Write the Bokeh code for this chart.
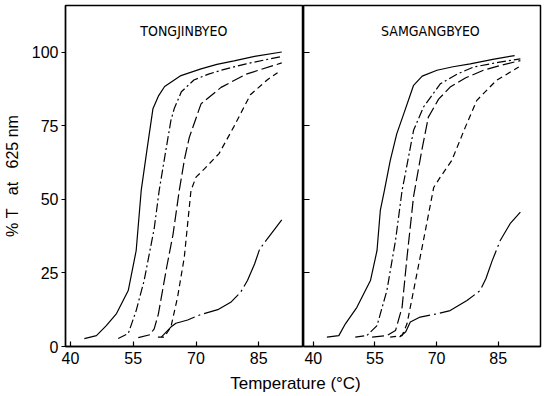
from bokeh.plotting import figure
from bokeh.layouts import row, column
from bokeh.models import Label, FixedTicker
from bokeh.embed import file_html
from bokeh.resources import INLINE

# ---------------- data ----------------
x_ticks = [40, 55, 70, 85]
y_ticks = [0, 25, 50, 75, 100]
panel_titles = ["TONGJINBYEO", "SAMGANGBYEO"]

# Left panel: TONGJINBYEO
L_T1 = [43.3, 46.2, 48.5, 51.0, 53.8, 55.7, 56.9, 58.3, 59.7, 61.0, 62.5, 66.4, 71.2, 75.0, 79.1, 84.0, 90.5]
L_Y1 = [2.7, 3.7, 7.0, 11.2, 19.0, 32.6, 53.0, 67.0, 80.7, 85.0, 88.3, 92.0, 94.3, 95.8, 97.0, 98.5, 100.0]
L_T2 = [51.4, 53.8, 55.7, 57.6, 60.0, 61.2, 62.6, 64.0, 64.8, 66.5, 69.5, 73.0, 76.0, 82.0, 90.5]
L_Y2 = [2.7, 4.4, 12.2, 22.4, 40.0, 53.0, 65.0, 76.8, 80.8, 86.5, 90.5, 92.5, 93.8, 96.0, 98.5]
L_T3 = [56.2, 59.0, 60.0, 61.0, 63.0, 64.5, 66.0, 67.3, 68.4, 71.2, 76.0, 82.0, 90.5]
L_Y3 = [3.0, 4.0, 6.0, 11.0, 27.0, 38.0, 53.0, 64.0, 71.0, 82.4, 88.0, 92.5, 96.3]
L_T4 = [60.9, 62.4, 64.0, 65.6, 67.2, 68.8, 70.0, 72.0, 75.5, 79.0, 83.0, 87.0, 89.5]
L_Y4 = [3.2, 3.2, 6.6, 16.8, 30.3, 53.0, 57.5, 60.3, 65.5, 74.5, 85.5, 90.5, 93.0]
L_T5 = [61.7, 64.0, 65.2, 68.0, 71.2, 75.2, 78.3, 80.7, 82.3, 84.0, 85.2, 87.0, 90.5]
L_Y5 = [3.2, 6.6, 7.9, 9.0, 10.9, 12.5, 15.0, 18.5, 22.4, 28.0, 33.0, 36.5, 43.0]

# Right panel: SAMGANGBYEO
R_T1 = [43.3, 46.2, 47.8, 50.6, 53.9, 55.5, 56.3, 57.3, 58.7, 60.3, 62.0, 64.4, 66.5, 70.1, 74.0, 78.2, 84.0, 89.0]
R_Y1 = [3.2, 3.7, 7.7, 13.3, 22.4, 32.6, 46.2, 53.0, 63.0, 72.2, 79.0, 88.7, 91.8, 93.8, 95.0, 96.0, 97.6, 98.8]
R_T2 = [50.2, 53.0, 55.5, 57.9, 60.0, 61.6, 62.4, 64.4, 66.8, 70.9, 75.0, 79.0, 85.0, 90.4]
R_Y2 = [3.2, 3.7, 7.1, 19.0, 36.0, 53.0, 58.7, 73.4, 81.3, 89.2, 92.5, 94.9, 96.5, 97.7]
R_T3 = [54.3, 57.9, 60.0, 61.6, 62.8, 64.4, 66.4, 68.0, 70.5, 73.3, 77.0, 81.4, 86.0, 90.4]
R_Y3 = [3.2, 3.7, 5.4, 13.3, 30.3, 51.0, 66.6, 77.9, 84.0, 88.1, 91.2, 93.8, 95.6, 97.1]
R_T4 = [58.7, 61.6, 62.8, 64.4, 66.8, 69.3, 70.9, 73.7, 77.0, 79.8, 84.6, 90.0]
R_Y4 = [3.2, 3.7, 7.7, 19.0, 36.0, 54.0, 57.5, 63.2, 74.5, 83.6, 90.4, 94.9]
R_T5 = [61.0, 62.5, 63.6, 66.0, 70.1, 73.3, 77.4, 80.6, 82.0, 83.5, 85.5, 87.9, 90.4]
R_Y5 = [3.2, 5.0, 8.3, 10.0, 11.1, 12.2, 15.6, 19.0, 23.0, 29.0, 36.0, 41.7, 45.6]

# ---------------- styling ----------------
DASHES = ["solid", "9 3 2 3", "12 4", "6 4", "40 4 2 4"]
FONT = "Liberation Sans"
TITLE_FONT = "Liberation Sans Narrow, DejaVu Sans Condensed, sans-serif"
NB = "\u00a0"


def style(p):
    p.xgrid.grid_line_color = None
    p.ygrid.grid_line_color = None
    p.outline_line_color = "black"
    p.outline_line_width = 1.5
    p.background_fill_color = "white"
    p.border_fill_color = "white"
    ax = p.xaxis[0]
    ax.ticker = FixedTicker(ticks=x_ticks)
    ax.major_tick_in = 5
    ax.major_tick_out = 0
    ax.minor_tick_line_color = None
    ax.axis_line_width = 1.3
    ax.major_tick_line_width = 1.2
    ax.major_label_text_font = FONT
    ax.major_label_text_font_size = "16px"
    ax.major_label_text_color = "black"
    ax.major_label_standoff = 5
    ay = p.yaxis[0]
    ay.ticker = FixedTicker(ticks=y_ticks)
    ay.minor_tick_line_color = None
    ay.axis_line_width = 1.3
    ay.major_tick_line_width = 1.2


# Left figure
p1 = figure(width=303, height=371, x_range=(38.8, 95.7), y_range=(0, 115.8),
            output_backend="svg", toolbar_location=None,
            min_border_left=64, min_border_right=0, min_border_top=5, min_border_bottom=25)
style(p1)
p1.yaxis.major_tick_out = 4
p1.yaxis.major_tick_in = 0
p1.yaxis.major_label_text_font = FONT
p1.yaxis.major_label_text_font_size = "16px"
p1.yaxis.major_label_text_color = "black"
p1.yaxis.major_label_standoff = 3
p1.yaxis.axis_label = "%" + NB + "T" + NB * 3 + "at" + NB * 3 + "625" + NB + "nm"
p1.yaxis.axis_label_text_font = FONT
p1.yaxis.axis_label_text_font_size = "16px"
p1.yaxis.axis_label_text_color = "black"
p1.yaxis.axis_label_text_font_style = "normal"
p1.yaxis.axis_label_standoff = 8

for xs, ys, d in zip([L_T1, L_T2, L_T3, L_T4, L_T5], [L_Y1, L_Y2, L_Y3, L_Y4, L_Y5], DASHES):
    p1.line(xs, ys, line_color="black", line_width=1.2, line_dash=d)

p1.add_layout(Label(x=67.1, y=107.3, text=panel_titles[0], text_align="center",
                    text_baseline="middle", text_font=TITLE_FONT, text_font_size="14px",
                    text_color="black"))

# Right figure
p2 = figure(width=247, height=371, x_range=(37.6, 95.3), y_range=(0, 115.8),
            output_backend="svg", toolbar_location=None,
            min_border_left=0, min_border_right=10, min_border_top=5, min_border_bottom=25)
style(p2)
p2.yaxis.major_tick_out = 0
p2.yaxis.major_tick_in = 6
p2.yaxis.major_label_overrides = {t: "" for t in y_ticks}
p2.yaxis.major_label_standoff = 0

for xs, ys, d in zip([R_T1, R_T2, R_T3, R_T4, R_T5], [R_Y1, R_Y2, R_Y3, R_Y4, R_Y5], DASHES):
    p2.line(xs, ys, line_color="black", line_width=1.2, line_dash=d)

p2.add_layout(Label(x=68.5, y=107.3, text=panel_titles[1], text_align="center",
                    text_baseline="middle", text_font=TITLE_FONT, text_font_size="14px",
                    text_color="black"))

# X label strip
p3 = figure(width=550, height=25, x_range=(0, 550), y_range=(0, 25),
            output_backend="svg", toolbar_location=None,
            min_border=0)
p3.axis.visible = False
p3.xgrid.grid_line_color = None
p3.ygrid.grid_line_color = None
p3.outline_line_color = None
p3.border_fill_color = "white"
p3.add_layout(Label(x=295, y=13, x_units="screen", y_units="screen",
                    text="Temperature" + NB + "(°C)", text_align="center", text_baseline="middle",
                    text_font=FONT, text_font_size="17px", text_color="black"))

layout = column(row(p1, p2), p3)
open("out.html", "w").write(file_html(layout, INLINE))
